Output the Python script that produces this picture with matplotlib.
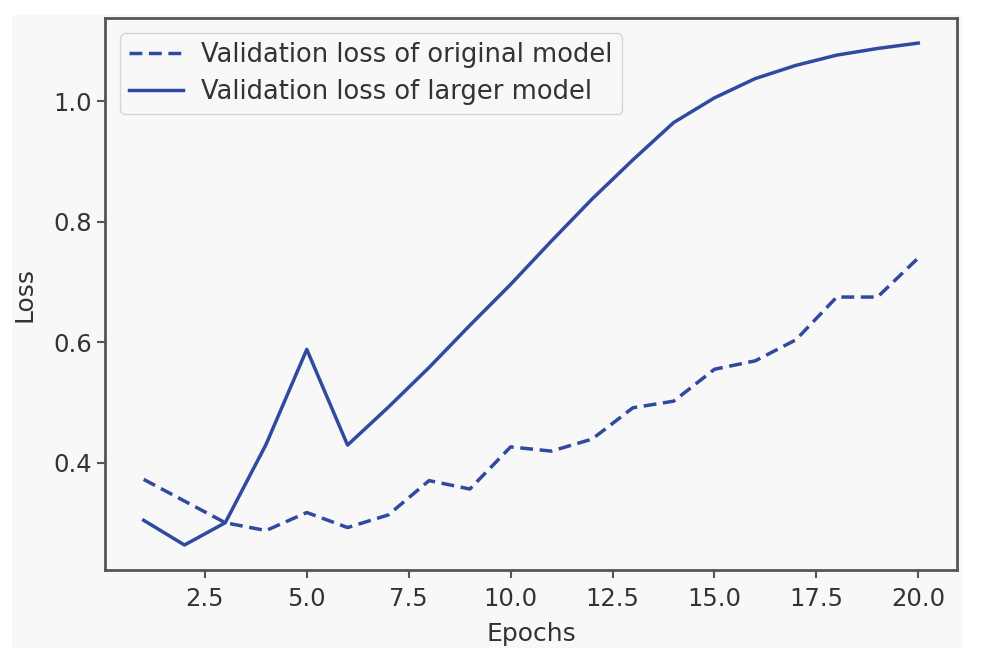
import matplotlib
matplotlib.use("Agg")
import matplotlib.pyplot as plt
from matplotlib.patches import Rectangle

# values
epochs = list(range(1, 21))
original_loss = [0.372, 0.336, 0.300, 0.287, 0.317, 0.292, 0.313, 0.370, 0.356, 0.426,
                 0.419, 0.439, 0.491, 0.502, 0.555, 0.569, 0.604, 0.675, 0.675, 0.740]
larger_loss = [0.304, 0.263, 0.300, 0.430, 0.588, 0.429, 0.492, 0.558, 0.628, 0.696,
               0.768, 0.838, 0.903, 0.965, 1.006, 1.038, 1.060, 1.077, 1.088, 1.097]

line_color = "#2f4a9e"
edge = "#555555"
text_color = "#333333"

fig = plt.figure(figsize=(10, 6.66), dpi=100, facecolor="white")
# pale gray panel behind the plot, like in the scanned figure
fig.patches.append(Rectangle((0.012, 0.027), 0.95, 0.95, transform=fig.transFigure,
                             facecolor="#f8f8f8", edgecolor="none", zorder=-1))

ax = fig.add_axes([0.105, 0.144, 0.852, 0.829])
ax.set_facecolor("#f8f8f8")

ax.plot(epochs, original_loss, "--", color=line_color, lw=2.5,
        dashes=(3.7, 1.9), label="Validation loss of original model")
ax.plot(epochs, larger_loss, "-", color=line_color, lw=2.5,
        label="Validation loss of larger model")

ax.set_xlabel("Epochs", fontsize=18, color=text_color, labelpad=8)
ax.set_ylabel("Loss", fontsize=18, color=text_color, labelpad=12)
ax.set_yticks([0.4, 0.6, 0.8, 1.0])
ax.tick_params(labelsize=17.5, colors=text_color, length=6, width=1.5, color=edge)
ax.tick_params(axis="x", pad=6)
for spine in ax.spines.values():
    spine.set_color(edge)
    spine.set_linewidth(2)

leg = ax.legend(loc="upper left", fontsize=18.5, frameon=True, handlelength=2.1,
                handletextpad=0.7, labelspacing=0.4, borderpad=0.35,
                borderaxespad=0.6)
leg.get_frame().set_edgecolor("#cccccc")
leg.get_frame().set_facecolor("#f8f8f8")
for t in leg.get_texts():
    t.set_color(text_color)

fig.savefig("out.png", dpi=100, facecolor="white")
